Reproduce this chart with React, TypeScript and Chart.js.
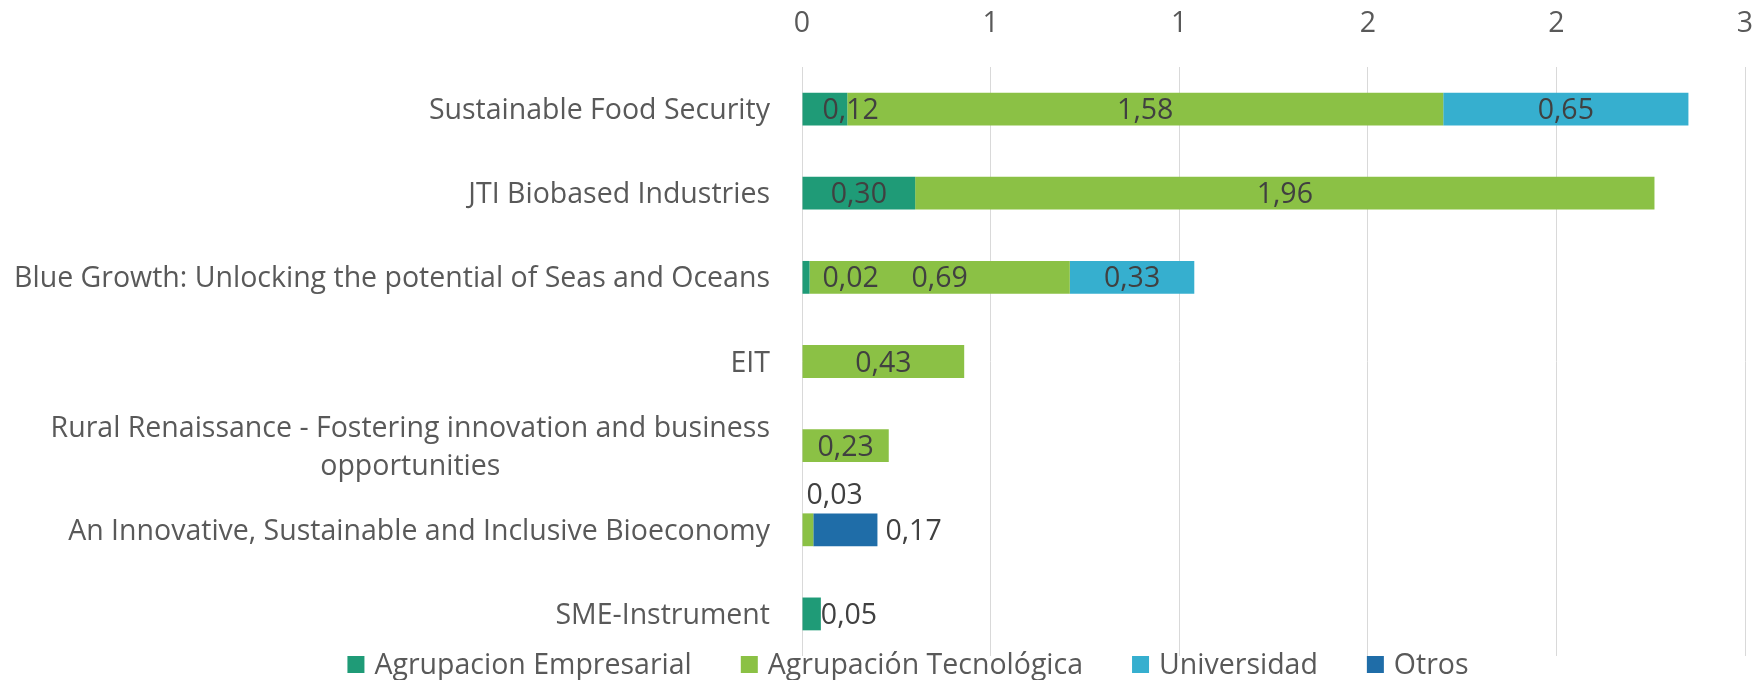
import React, { useEffect, useRef } from "react";
import { Chart, registerables } from "chart.js";

Chart.register(...registerables);

const FONT = "'Open Sans', sans-serif";
const FONT_SIZE = 28.5;

const categories: (string | string[])[] = [
  "Sustainable Food Security",
  "JTI Biobased Industries",
  "Blue Growth: Unlocking the potential of Seas and Oceans",
  "EIT",
  ["Rural Renaissance - Fostering innovation and business", "opportunities"],
  "An Innovative, Sustainable and Inclusive Bioeconomy",
  "SME-Instrument",
];

const seriesNames = [
  "Agrupacion Empresarial",
  "Agrupación Tecnológica",
  "Universidad",
  "Otros",
];

const empresarial = [0.12, 0.3, 0.02, null, null, null, 0.05];
const tecnologica = [1.58, 1.96, 0.69, 0.43, 0.23, 0.03, null];
const universidad = [0.65, null, 0.33, null, null, null, null];
const otros = [null, null, null, null, null, 0.17, null];

const xTickValues = [0, 0.5, 1, 1.5, 2, 2.5];
const xTickLabels = ["0", "1", "1", "2", "2", "3"];

const seriesColors = ["#1F9B77", "#8BC145", "#36AFCF", "#1F6DA8"];

// Placement overrides for data labels ("datasetIndex:pointIndex")
const labelPlacement: Record<string, { mode: string; dx: number; dy: number }> = {
  "0:0": { mode: "base", dx: 20, dy: 0 },
  "0:2": { mode: "base", dx: 20, dy: 0 },
  "1:5": { mode: "above", dx: 4, dy: -36 },
  "3:5": { mode: "outside", dx: 8, dy: 0 },
  "0:6": { mode: "outside", dx: 0, dy: 0 },
};

const fmt = (v: number) => v.toFixed(2).replace(".", ",");

const categoryLabelsPlugin = {
  id: "categoryLabels",
  afterDraw(chart: any) {
    const ctx = chart.ctx;
    const ys = chart.scales.y;
    ctx.save();
    ctx.font = `${FONT_SIZE}px ${FONT}`;
    ctx.fillStyle = "#595959";
    ctx.textBaseline = "alphabetic";
    const right = chart.chartArea.left - 32;
    const lh = 38;
    categories.forEach((c, i) => {
      const cy = ys.getPixelForValue(i);
      const lines = Array.isArray(c) ? c : [c];
      const maxW = Math.max(...lines.map((l) => ctx.measureText(l).width));
      lines.forEach((l, j) => {
        const base = cy + 10 + (j - (lines.length - 1) / 2) * lh;
        if (lines.length === 1) {
          ctx.textAlign = "right";
          ctx.fillText(l, right, base);
        } else {
          ctx.textAlign = "center";
          ctx.fillText(l, right - maxW / 2, base);
        }
      });
    });
    ctx.restore();
  },
};

const dataLabelsPlugin = {
  id: "dataLabels",
  afterDatasetsDraw(chart: any) {
    const ctx = chart.ctx;
    ctx.save();
    ctx.font = `${FONT_SIZE}px ${FONT}`;
    ctx.fillStyle = "#404040";
    ctx.textBaseline = "alphabetic";
    chart.data.datasets.forEach((ds: any, di: number) => {
      const meta = chart.getDatasetMeta(di);
      meta.data.forEach((el: any, i: number) => {
        const v = ds.data[i];
        if (v === null || v === undefined) return;
        const { x, y, base } = el.getProps(["x", "y", "base"], true);
        const p = labelPlacement[`${di}:${i}`];
        const text = fmt(v);
        if (!p) {
          ctx.textAlign = "center";
          ctx.fillText(text, (x + base) / 2, y + 10);
        } else if (p.mode === "base" || p.mode === "above") {
          ctx.textAlign = "left";
          ctx.fillText(text, base + p.dx, y + 10 + p.dy);
        } else {
          ctx.textAlign = "left";
          ctx.fillText(text, x + p.dx, y + 10 + p.dy);
        }
      });
    });
    ctx.restore();
  },
};

const legendPlugin = {
  id: "customLegend",
  afterDraw(chart: any) {
    const ctx = chart.ctx;
    ctx.save();
    ctx.font = `${FONT_SIZE}px ${FONT}`;
    ctx.textBaseline = "alphabetic";
    ctx.textAlign = "left";
    const box = 17;
    const boxGap = 10;
    const itemGap = 49;
    const widths = seriesNames.map((n) => ctx.measureText(n).width);
    const total =
      widths.reduce((a, w) => a + box + boxGap + w, 0) + itemGap * (seriesNames.length - 1);
    const centerX = 908;
    let x = centerX - total / 2;
    const boxTop = 656;
    const baseline = 674;
    seriesNames.forEach((n, i) => {
      ctx.fillStyle = seriesColors[i];
      ctx.fillRect(x, boxTop, box, box);
      ctx.fillStyle = "#595959";
      ctx.fillText(n, x + box + boxGap, baseline);
      x += box + boxGap + widths[i] + itemGap;
    });
    ctx.restore();
  },
};

export default function App() {
  const canvasRef = useRef<HTMLCanvasElement | null>(null);

  useEffect(() => {
    if (!canvasRef.current) return;
    const series = [empresarial, tecnologica, universidad, otros];
    const chart = new Chart(canvasRef.current, {
      type: "bar",
      data: {
        labels: categories as any,
        datasets: series.map((d, i) => ({
          label: seriesNames[i],
          data: d as any,
          backgroundColor: seriesColors[i],
          borderWidth: 0,
          barPercentage: 0.39,
          categoryPercentage: 1,
        })),
      },
      options: {
        indexAxis: "y",
        animation: false,
        responsive: true,
        maintainAspectRatio: false,
        layout: { padding: { left: 0, right: 10, top: 0, bottom: 24 } },
        plugins: {
          legend: { display: false },
          tooltip: { enabled: false },
        },
        scales: {
          x: {
            position: "top",
            stacked: true,
            min: 0,
            max: 2.5,
            afterBuildTicks: (scale: any) => {
              scale.ticks = xTickValues.map((v) => ({ value: v }));
            },
            afterFit: (scale: any) => {
              scale.height = 67;
              scale.paddingLeft = 0;
              scale.paddingRight = 0;
            },
            ticks: {
              font: { family: FONT, size: FONT_SIZE },
              color: "#595959",
              padding: 26,
              maxRotation: 0,
              callback: (_v: any, i: number) => xTickLabels[i],
            },
            grid: { color: "#D9D9D9", lineWidth: 1, drawTicks: false },
            border: { display: false },
          },
          y: {
            stacked: true,
            afterFit: (scale: any) => {
              scale.width = 802;
            },
            ticks: { display: false },
            grid: { display: false, drawTicks: false },
            border: { display: false },
          },
        },
      },
      plugins: [dataLabelsPlugin, categoryLabelsPlugin, legendPlugin],
    } as any);
    return () => chart.destroy();
  }, []);

  return (
    <div
      style={{
        position: "fixed",
        left: 0,
        top: 0,
        width: 1755,
        height: 680,
        background: "#ffffff",
      }}
    >
      <canvas ref={canvasRef} />
    </div>
  );
}
